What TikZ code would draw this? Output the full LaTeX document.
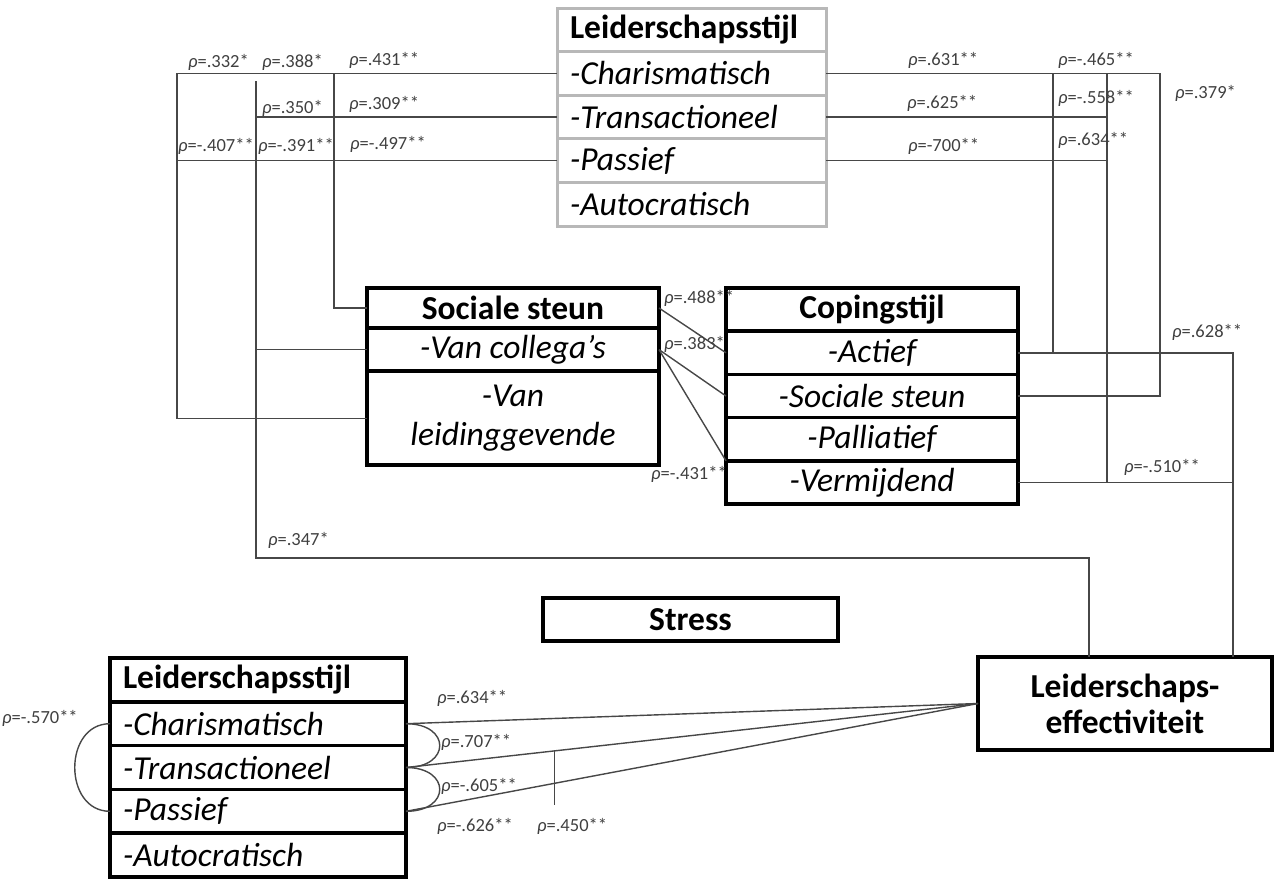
\documentclass[tikz,border=0pt]{standalone}
\usepackage{fontspec}
\setmainfont{Carlito}
\usetikzlibrary{positioning}

\newcommand{\boxfont}{\fontsize{33.5}{39}\selectfont}
\newcommand{\corr}[1]{\textit{ρ}=#1}

\tikzset{
  greyrow/.style={draw=black!28, line width=3pt, outer sep=0pt, inner ysep=0pt, inner xsep=13pt, text width=243pt, minimum height=43.6pt, align=left},
  blackrow/.style={draw, line width=3.5pt, outer sep=0pt, inner ysep=0pt, inner xsep=13pt, text width=270pt, minimum height=43.8pt, align=left},
  midrow/.style={draw, line width=3.5pt, outer sep=0pt, inner sep=0pt, minimum width=292pt, minimum height=43.2pt, align=center},
  hdr/.style={font=\boxfont\bfseries},
  itm/.style={font=\boxfont\itshape},
  link/.style={line width=1.4pt, draw=black!72},
  corrlab/.style={font=\fontsize{18.5}{20}\selectfont, text=black!75, inner sep=0pt, anchor=west}
}

\begin{document}
\begin{tikzpicture}[x=1pt, y=-1pt]
	\useasboundingbox (0,0) rectangle (1275,879);

	% leiderschapsstijl (top)
	\node[greyrow, hdr, anchor=north west] (stijlTop) at (557,8) {Leiderschapsstijl};
	\node[greyrow, itm, below=0pt of stijlTop] (charTop) {-Charismatisch};
	\node[greyrow, itm, below=0pt of charTop] (transTop) {-Transactioneel};
	\node[greyrow, itm, below=0pt of transTop] (pasTop) {-Passief};
	\node[greyrow, itm, below=0pt of pasTop] (autoTop) {-Autocratisch};

	% sociale steun
	\node[midrow, hdr, minimum height=40pt, anchor=north west] (headSoc) at (367,288) {Sociale steun};
	\node[midrow, itm, below=0pt of headSoc] (colSoc) {-Van collega’s};
	\node[midrow, minimum height=94pt, below=0pt of colSoc, font=\fontsize{33.5}{39}\selectfont\itshape] (leidSoc) {-Van\\leidinggevende};

	% copingstijl
	\node[midrow, hdr, anchor=north west] (headCop) at (726,288) {Copingstijl};
	\node[midrow, itm, below=0pt of headCop] (actCop) {-Actief};
	\node[midrow, itm, below=0pt of actCop] (socCop) {-Sociale steun};
	\node[midrow, itm, below=0pt of socCop] (palCop) {-Palliatief};
	\node[midrow, itm, below=0pt of palCop] (vermCop) {-Vermijdend};

	\node[midrow, hdr, minimum width=295pt, anchor=north west] (stress) at (543,598) {Stress};
	\node[midrow, minimum width=294pt, minimum height=93pt, anchor=north west, font=\fontsize{33.5}{36}\selectfont\bfseries] (eff) at (978,657) {Leiderschaps-\\effectiviteit};

	% leiderschapsstijl (bottom)
	\node[blackrow, hdr, anchor=north west] (stijlBot) at (110,658) {Leiderschapsstijl};
	\node[blackrow, itm, below=0pt of stijlBot] (charBot) {-Charismatisch};
	\node[blackrow, itm, below=0pt of charBot] (transBot) {-Transactioneel};
	\node[blackrow, itm, below=0pt of transBot] (pasBot) {-Passief};
	\node[blackrow, itm, below=0pt of pasBot] (autoBot) {-Autocratisch};

	% rails
	\coordinate (railA) at (177,200);
	\coordinate (railB) at (256,300);
	\coordinate (railC) at (334,200);
	\coordinate (railD) at (1053,200);
	\coordinate (railE) at (1107,200);
	\coordinate (railF) at (1160,200);
	\coordinate (railG) at (1233,500);
	\coordinate (lowCorner) at (1089,558);

	% left of the top box
	\draw[link] (charTop.west) -| (railA) |- (leidSoc.west);
	\draw[link] (railC |- charTop.west) |- (headSoc.west);
	\draw[link] (transTop.west) -- (railB |- transTop.west);
	\draw[link] (pasTop.west) -- (railA |- pasTop.west);
	\draw[link] (railB |- 0,81) |- (lowCorner) -- (lowCorner |- eff.north);
	\draw[link] (railB |- colSoc.west) -- (colSoc.west);

	% right of the top box
	\draw[link] (charTop.east) -| (railF) |- (socCop.east);
	\draw[link] (transTop.east) -- (railE |- transTop.east);
	\draw[link] (pasTop.east) -- (railE |- pasTop.east);
	\draw[link] (railD |- charTop.east) -- (railD |- actCop.east);
	\draw[link] (railE |- charTop.east) -- (railE |- vermCop.east);
	\draw[link] (actCop.east) -| (railG |- eff.north);
	\draw[link] (vermCop.east) -- (railG |- vermCop.east);

	% sociale steun - copingstijl
	\draw[link] (headSoc.east) -- (actCop.west);
	\draw[link] (colSoc.east) -- (socCop.west);
	\draw[link] (colSoc.east) -- (vermCop.north west);

	% bottom box - effectiviteit
	\draw[link] (charBot.east) -- (eff.west);
	\draw[link] (transBot.east) -- (eff.west);
	\draw[link] (pasBot.east) -- (eff.west);
	\path (transBot.east) -- (eff.west) coordinate[pos=0.26] (tick);
	\draw[link] (tick) -- ++(0,54);
	\draw[link] (charBot.west) .. controls +(-47,0) and +(-47,0) .. (pasBot.west);
	\draw[link] (charBot.east) .. controls +(45,0) and +(45,0) .. (transBot.east);
	\draw[link] (transBot.east) .. controls +(45,0) and +(45,0) .. (pasBot.east);

	% correlations
	\node[corrlab] (lab332) at (188,62) {\corr{.332*}};
	\node[corrlab] (lab388) at (262,62) {\corr{.388*}};
	\node[corrlab] (lab431) at (349,60) {\corr{.431**}};
	\node[corrlab] (lab350) at (262,108) {\corr{.350*}};
	\node[corrlab] (lab309) at (349,104) {\corr{.309**}};
	\node[corrlab] (labm407) at (178,146) {\corr{-.407**}};
	\node[corrlab] (labm391) at (258,146) {\corr{-.391**}};
	\node[corrlab] (labm497) at (350,144) {\corr{-.497**}};
	\node[corrlab] (lab631) at (908,60) {\corr{.631**}};
	\node[corrlab] (labm465) at (1058,60) {\corr{-.465**}};
	\node[corrlab] (lab625) at (907,103) {\corr{.625**}};
	\node[corrlab] (labm558) at (1058,98) {\corr{-.558**}};
	\node[corrlab] (labm700) at (908,146) {\corr{-700**}};
	\node[corrlab] (lab634a) at (1058,140) {\corr{.634**}};
	\node[corrlab] (lab379) at (1175,93) {\corr{.379*}};
	\node[corrlab] (lab488) at (664,298) {\corr{.488**}};
	\node[corrlab] (lab383) at (664,344) {\corr{.383*}};
	\node[corrlab] (labm431) at (651,474) {\corr{-.431**}};
	\node[corrlab] (lab628) at (1172,332) {\corr{.628**}};
	\node[corrlab] (labm510) at (1124,467) {\corr{-.510**}};
	\node[corrlab] (lab347) at (268,540) {\corr{.347*}};
	\node[corrlab] (lab634b) at (437,698) {\corr{.634**}};
	\node[corrlab] (lab707) at (441,742) {\corr{.707**}};
	\node[corrlab] (labm605) at (441,786) {\corr{-.605**}};
	\node[corrlab] (labm626) at (437,826) {\corr{-.626**}};
	\node[corrlab] (lab450) at (537,826) {\corr{.450**}};
	\node[corrlab] (labm570) at (2,718) {\corr{-.570**}};
\end{tikzpicture}
\end{document}
